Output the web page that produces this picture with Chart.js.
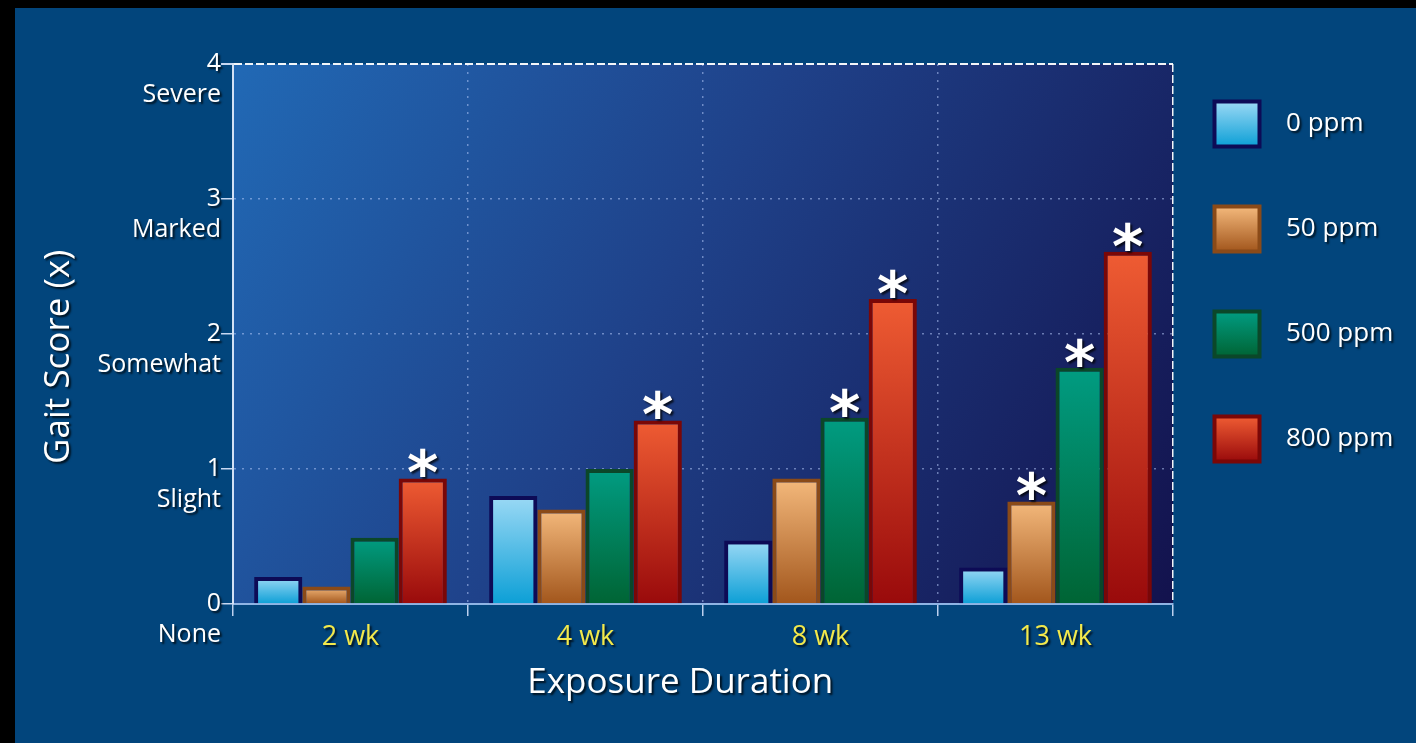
<!DOCTYPE html>
<html>
<head>
<meta charset="utf-8">
<script src="https://cdn.jsdelivr.net/npm/chart.js@4/dist/chart.umd.min.js"></script>
<style>
    html, body { margin: 0; padding: 0; background: #000; }
    .frame {
        position: absolute;
        left: 15px;
        top: 8px;
        width: 1401px;
        height: 735px;
        background: #02457c;
    }
</style>
</head>
<body>
<div class="frame"><canvas id="gait"></canvas></div>
<script>
(function () {
    "use strict";

    // Data
    const categories = ["2 wk", "4 wk", "8 wk", "13 wk"];
    const seriesNames = ["0 ppm", "50 ppm", "500 ppm", "800 ppm"];
    const ppm0 = [0.2, 0.8, 0.47, 0.27];
    const ppm50 = [0.13, 0.7, 0.93, 0.76];
    const ppm500 = [0.49, 1.0, 1.38, 1.75];
    const ppm800 = [0.93, 1.36, 2.26, 2.61];
    // asterisk = significant vs control
    const sig0 = [false, false, false, false];
    const sig50 = [false, false, false, true];
    const sig500 = [false, false, true, true];
    const sig800 = [true, true, true, true];
    const yTickNums = ["0", "1", "2", "3", "4"];
    const yTickWords = ["None", "Slight", "Somewhat", "Marked", "Severe"];

    const FONT = "'Open Sans', 'Noto Sans', sans-serif";

    // gradient stops (top, bottom) and border per series
    const fills = [
        ["#9bd9f5", "#0c9fd6"],
        ["#f4b97c", "#a2561c"],
        ["#019c82", "#006434"],
        ["#ef5c33", "#990a0b"],
    ];
    const borders = ["#0d0b56", "#8a4a18", "#0b4729", "#7a0707"];
    const sigs = [sig0, sig50, sig500, sig800];
    const values = [ppm0, ppm50, ppm500, ppm800];

    // legend placement (canvas coords)
    const LEG_X = 1199.5;
    const LEG_Y = 93.5;
    const LEG_BOX = 45;
    const LEG_PAD = 60;

    function barFill(stops) {
        return function (c) {
            const chart = c.chart;
            if (!chart.chartArea || c.dataIndex === undefined) return stops[1];
            const y = chart.scales.y;
            const top = y.getPixelForValue(c.raw);
            const bot = y.getPixelForValue(0);
            const g = chart.ctx.createLinearGradient(0, top, 0, bot);
            g.addColorStop(0, stops[0]);
            g.addColorStop(1, stops[1]);
            return g;
        };
    }

    const plotBackground = {
        id: "plotBackground",
        afterInit(chart) {
            // soft dark shadow under every piece of text
            const ctx = chart.ctx;
            const fillText = ctx.fillText;
            ctx.fillText = function () {
                this.save();
                this.shadowColor = "rgba(0, 0, 0, 0.75)";
                this.shadowOffsetX = 2;
                this.shadowOffsetY = 2;
                this.shadowBlur = 2;
                fillText.apply(this, arguments);
                this.restore();
            };
        },
        beforeLayout(chart) {
            const lg = chart.legend;
            if (lg && !lg._fixedFit) {
                const fit = lg.fit;
                lg.fit = function () {
                    fit.call(this);
                    this.width = 243;
                };
                lg._fixedFit = true;
            }
        },
        afterLayout(chart) {
            const lg = chart.legend;
            if (!lg) return;
            lg.left = LEG_X - LEG_PAD;
            lg.top = LEG_Y - LEG_PAD;
            lg.right = chart.width;
            lg.bottom = chart.height;
        },
        beforeDraw(chart) {
            const { ctx, chartArea: a } = chart;
            const g = ctx.createLinearGradient(a.left, a.top, a.right, a.bottom);
            g.addColorStop(0, "#2169b5");
            g.addColorStop(0.45, "#1f4189");
            g.addColorStop(1, "#13124d");
            ctx.save();
            ctx.fillStyle = g;
            ctx.fillRect(a.left, a.top, a.right - a.left, a.bottom - a.top);
            ctx.restore();
        },
        afterDatasetsDraw(chart) {
            const ctx = chart.ctx;
            ctx.save();
            ctx.font = "bold 60px 'DejaVu Sans', sans-serif";
            ctx.fillStyle = "#ffffff";
            ctx.textAlign = "center";
            ctx.textBaseline = "alphabetic";
            const m = ctx.measureText("*");
            sigs.forEach((flags, i) => {
                const meta = chart.getDatasetMeta(i);
                flags.forEach((on, j) => {
                    if (!on) return;
                    const bar = meta.data[j];
                    ctx.fillText("*", bar.x, bar.y - 1 - m.actualBoundingBoxDescent);
                });
            });
            ctx.restore();
        },
    };

    const ctx = document.getElementById("gait").getContext("2d");

    new Chart(ctx, {
        type: "bar",
        data: {
            labels: categories,
            datasets: values.map((v, i) => ({
                label: seriesNames[i],
                data: v,
                backgroundColor: barFill(fills[i]),
                borderColor: borders[i],
                borderWidth: 4,
                categoryPercentage: 0.82,
                barPercentage: 1,
            })),
        },
        options: {
            maintainAspectRatio: false,
            animation: false,
            layout: {
                padding: { top: 56, left: 0, right: 0, bottom: 0 },
            },
            plugins: {
                tooltip: { enabled: false },
                legend: {
                    position: "right",
                    align: "start",
                    labels: {
                        boxWidth: LEG_BOX,
                        boxHeight: LEG_BOX,
                        padding: LEG_PAD,
                        color: "#ffffff",
                        font: { family: FONT, size: 26 },
                        generateLabels(chart) {
                            return seriesNames.map((name, i) => {
                                const top = LEG_Y + i * (LEG_BOX + LEG_PAD);
                                const g = chart.ctx.createLinearGradient(0, top, 0, top + LEG_BOX);
                                g.addColorStop(0, fills[i][0]);
                                g.addColorStop(1, fills[i][1]);
                                return {
                                    text: "  " + name,
                                    fillStyle: g,
                                    strokeStyle: borders[i],
                                    lineWidth: 4,
                                    fontColor: "#ffffff",
                                    hidden: false,
                                    datasetIndex: i,
                                };
                            });
                        },
                    },
                },
            },
            scales: {
                x: {
                    offset: true,
                    afterFit(scale) {
                        scale.height = 139;
                    },
                    ticks: {
                        color: "#f3e94b",
                        font: { family: FONT, size: 27 },
                        padding: 5,
                    },
                    grid: {
                        offset: true,
                        lineWidth: 1.5,
                        tickLength: 12,
                        tickColor: "#bcd0ee",
                        color: function (c) {
                            if (c.type === "scale") return "rgba(255, 255, 255, 0.95)";
                            if (c.index === 0) return "rgba(0, 0, 0, 0)";
                            return "rgba(190, 210, 255, 0.5)";
                        },
                    },
                    border: {
                        color: "#8fb4e4",
                        width: 2,
                        dash: function (c) {
                            return c.type === "scale" ? [8, 3] : [2, 6];
                        },
                    },
                    title: {
                        display: true,
                        text: "Exposure Duration     ",
                        color: "#ffffff",
                        font: { family: FONT, size: 35 },
                        padding: { top: 0, bottom: 39 },
                    },
                },
                y: {
                    min: 0,
                    max: 4,
                    afterFit(scale) {
                        scale.width = 218;
                    },
                    ticks: {
                        stepSize: 1,
                        color: "#ffffff",
                        padding: 0,
                        font: { family: FONT, size: 25, lineHeight: 1.25 },
                        callback: function (value) {
                            return ["", yTickNums[value], yTickWords[value]];
                        },
                    },
                    grid: {
                        lineWidth: function (c) {
                            return c.tick && c.tick.value === 4 ? 2 : 1.5;
                        },
                        tickLength: 12,
                        tickColor: "#c8d8f2",
                        color: function (c) {
                            if (!c.tick) return "rgba(0, 0, 0, 0)";
                            if (c.tick.value === 4) return "rgba(255, 255, 255, 0.95)";
                            if (c.tick.value === 0) return "rgba(0, 0, 0, 0)";
                            return "rgba(190, 210, 255, 0.5)";
                        },
                    },
                    border: {
                        color: "#d3e1f5",
                        width: 2,
                        dash: function (c) {
                            return c.tick && c.tick.value === 4 ? [8, 3] : [2, 6];
                        },
                    },
                    title: {
                        display: true,
                        text: "Gait Score (x)     ",
                        color: "#ffffff",
                        font: { family: FONT, size: 35 },
                        padding: { top: 23, bottom: 0 },
                    },
                },
            },
        },
        plugins: [plotBackground],
    });
})();
</script>
</body>
</html>
